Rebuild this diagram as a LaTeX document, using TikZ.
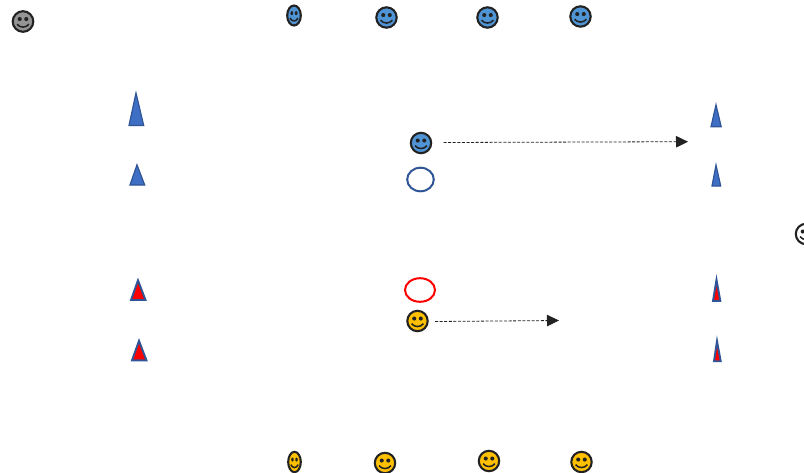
\documentclass[tikz,border=0pt]{standalone}
\usetikzlibrary{arrows.meta}
\definecolor{faceblue}{HTML}{4F94D4}
\definecolor{faceyellow}{HTML}{FFC000}
\definecolor{facegrey}{HTML}{949494}
\definecolor{ink}{HTML}{222222}
\definecolor{conefill}{HTML}{3F6FC4}
\definecolor{coneline}{HTML}{2F5597}
\tikzset{
  faceline/.style={draw=ink,line width=2.1pt},
  moveline/.style={draw=ink,line width=0.8pt,dash pattern=on 3pt off 1.6pt,-{Triangle[length=12pt,width=11.5pt]}},
  conebody/.style={draw=coneline,line width=1.2pt,line join=miter,miter limit=10,fill=conefill},
  redcone/.style={conebody,line width=1.9pt,fill=red},
  ringblue/.style={draw=coneline,line width=2pt},
  ringred/.style={draw=red,line width=2pt}
}
% name, x, y, rx, ry, fill
\newcommand{\faceat}[6]{%
  \coordinate (#1) at (#2,#3);
  \begin{scope}[shift={(#2,#3)},x=#4pt,y=-#5pt]
    \draw[faceline,fill=#6] (0,0) circle (1);
    \fill[ink] (-0.32,-0.24) circle (0.2);
    \fill[ink] (0.32,-0.24) circle (0.2);
    \draw[ink,line width=1.5pt] (-0.58,0.26) .. controls (-0.3,0.64) and (0.3,0.64) .. (0.58,0.26);
  \end{scope}}
% name, left, apex x, top, bottom, right, style
\newcommand{\conepath}[7]{%
  \path[#7] (#2,#5) -- (#3,#4) -- (#6,#5) -- cycle;\coordinate (#1) at (#3,#4);}
\begin{document}
\begin{tikzpicture}[x=1pt,y=-1pt]
\useasboundingbox (0,0) rectangle (804,472);
\clip (0,0) rectangle (804,472);
\faceat{grey}{23}{21.5}{10.3}{10.3}{facegrey}
\faceat{b1}{294}{15.5}{6.8}{10}{faceblue}
\faceat{b2}{386.5}{17.5}{10.2}{10.2}{faceblue}
\faceat{b3}{487.5}{17.5}{10.2}{10.2}{faceblue}
\faceat{b4}{580.5}{16.5}{10.2}{10.2}{faceblue}
\faceat{bm}{421}{143}{10.2}{10.2}{faceblue}
\faceat{ym}{417.5}{321}{10.2}{10.2}{faceyellow}
\faceat{y1}{294.5}{462}{6.3}{10.2}{faceyellow}
\faceat{y2}{385}{463}{10.2}{10.2}{faceyellow}
\faceat{y3}{489}{461}{10.2}{10.2}{faceyellow}
\faceat{y4}{581.5}{462}{10.2}{10.2}{faceyellow}
\faceat{w1}{806}{234}{10.2}{10.2}{white}
\draw[ringblue] (420.5,179.5) ellipse (13.3 and 11.8);
\draw[ringred] (420,290) ellipse (15 and 11.8);
\conepath{c1}{129}{136}{93}{125.5}{143.7}{conebody}
\conepath{c2}{130}{137}{164.8}{185}{144.7}{conebody}
\conepath{c3}{711}{716}{104.8}{126.8}{721.2}{conebody}
\conepath{c4}{712}{716}{165}{186}{720.7}{conebody}
\conepath{r1}{131}{138}{280.3}{300}{145.5}{redcone}
\conepath{r2}{132}{139}{340.8}{360.4}{146.5}{redcone}
\conepath{r3}{713}{716.5}{279.7}{300.8}{720.3}{redcone}
\conepath{r4}{714}{717}{341}{361.2}{720.7}{redcone}
\coordinate (a1s) at (443.5,142.5);
\coordinate (a1e) at (688,141.7);
\coordinate (a2s) at (435,321.5);
\coordinate (a2e) at (559,320.5);
\draw[moveline] (a1s) -- (a1e);
\draw[moveline] (a2s) -- (a2e);
\end{tikzpicture}
\end{document}
